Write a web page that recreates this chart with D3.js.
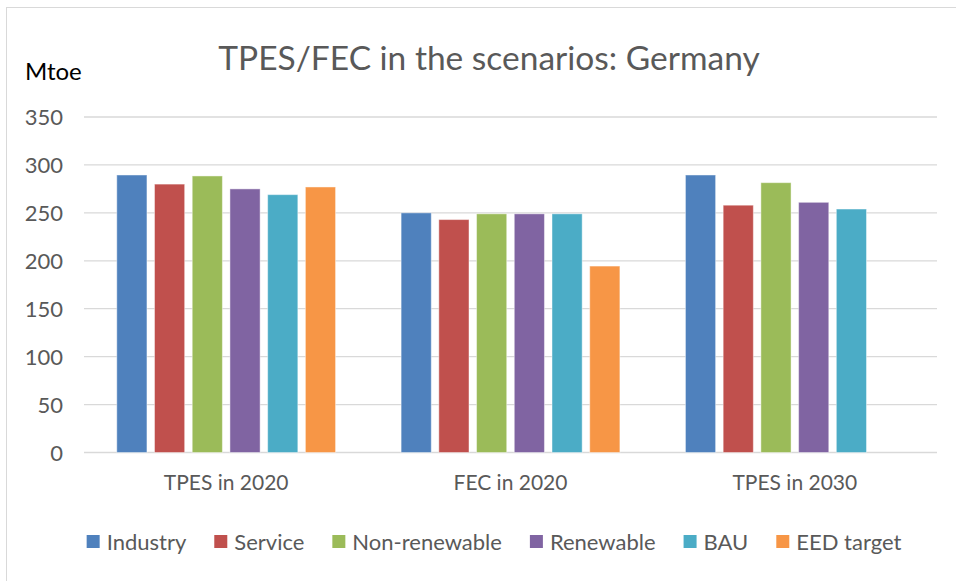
<!DOCTYPE html>
<html>
<head>
<meta charset="utf-8">
<script src="https://cdn.jsdelivr.net/npm/d3@7"></script>
<style>
  html, body { margin: 0; padding: 0; background: #fff; }
  svg { display: block; font-family: Lato, "Open Sans", sans-serif; }
</style>
</head>
<body>
<svg id="chart" width="956" height="581"></svg>
<script>
// Categories on the x axis
const categories = ["TPES in 2020", "FEC in 2020", "TPES in 2030"];
// Scenario series (Mtoe), one value per category
const seriesNames = ["Industry", "Service", "Non-renewable", "Renewable", "BAU", "EED target"];
const industry     = [289.5, 250, 289.5];
const service      = [280, 243, 258];
const nonRenewable = [288.5, 249, 281.5];
const renewable    = [275, 249, 261];
const bau          = [269, 249, 254];
const eedTarget    = [277, 194.5, null];
const yTicks = [0, 50, 100, 150, 200, 250, 300, 350];
const colors = ["#4F81BD", "#C0504D", "#9BBB59", "#8064A2", "#4BACC6", "#F79646"];

const seriesValues = [industry, service, nonRenewable, renewable, bau, eedTarget];

const svg = d3.select("#chart");

// Outer chart frame
svg.append("rect")
  .attr("x", 6.5).attr("y", 7.5)
  .attr("width", 980).attr("height", 620)
  .attr("fill", "#fff").attr("stroke", "#d9d9d9").attr("stroke-width", 1);

const plot = { left: 84, right: 937, top: 117, bottom: 452.5 };

const y = d3.scaleLinear().domain([0, 350]).range([plot.bottom, plot.top]);
const x0 = d3.scaleBand().domain(categories).range([plot.left, plot.right]).padding(0);
const x1 = d3.scaleBand().domain(seriesNames)
  .range([29, x0.bandwidth() - 29]).paddingInner(0.2).paddingOuter(0.1);
const color = d3.scaleOrdinal().domain(seriesNames).range(colors);

// Horizontal gridlines
svg.append("g")
  .selectAll("line")
  .data(yTicks)
  .join("line")
  .attr("x1", plot.left).attr("x2", plot.right)
  .attr("y1", d => y(d)).attr("y2", d => y(d))
  .attr("stroke", "#d9d9d9").attr("stroke-width", 1.3);

// Y tick labels
const yAxis = d3.axisLeft(y).tickValues(yTicks).tickSize(0).tickPadding(0);
svg.append("g")
  .attr("transform", `translate(${plot.left - 21},0)`)
  .call(yAxis)
  .call(g => g.select(".domain").remove())
  .call(g => g.selectAll("text")
    .attr("font-family", "Lato, sans-serif")
    .attr("font-size", 22)
    .attr("fill", "#595959")
    .attr("dy", "0.36em"));

// Bars
const rows = categories.map((c, i) => ({
  category: c,
  values: seriesNames.map((s, j) => ({ series: s, value: seriesValues[j][i] }))
}));

svg.append("g")
  .selectAll("g")
  .data(rows)
  .join("g")
  .attr("transform", d => `translate(${x0(d.category)},0)`)
  .selectAll("rect")
  .data(d => d.values.filter(v => v.value != null))
  .join("rect")
  .attr("x", d => x1(d.series))
  .attr("width", x1.bandwidth())
  .attr("y", d => y(d.value))
  .attr("height", d => y(0) - y(d.value))
  .attr("fill", d => color(d.series))
  .attr("stroke", "#ffffff")
  .attr("stroke-opacity", 0.45)
  .attr("stroke-width", 1);

// Category labels
const xAxis = d3.axisBottom(x0).tickSize(0).tickPadding(0);
svg.append("g")
  .attr("transform", `translate(0,${plot.bottom})`)
  .call(xAxis)
  .call(g => g.select(".domain").remove())
  .call(g => g.selectAll("text")
    .attr("font-family", "Lato, sans-serif")
    .attr("font-size", 21)
    .attr("fill", "#595959")
    .attr("dy", "37"));

// Title
svg.append("text")
  .attr("x", 489).attr("y", 70)
  .attr("text-anchor", "middle")
  .attr("font-size", 33.5)
  .attr("fill", "#595959")
  .text("TPES/FEC in the scenarios: Germany");

// Unit label
svg.append("text")
  .attr("x", 25).attr("y", 80)
  .attr("font-size", 24)
  .attr("fill", "#000")
  .text("Mtoe");

// Legend, laid out left to right and centred
const legend = svg.append("g");
const items = legend.selectAll("g").data(seriesNames).join("g");
items.append("rect")
  .attr("width", 13).attr("height", 13)
  .attr("y", -7)
  .attr("fill", d => color(d));
items.append("text")
  .attr("x", 20)
  .attr("dy", "0.36em")
  .attr("font-size", 22)
  .attr("fill", "#595959")
  .text(d => d);
let cursor = 0;
items.each(function () {
  const w = d3.select(this).select("text").node().getComputedTextLength();
  d3.select(this).attr("transform", `translate(${cursor},0)`);
  cursor += 20 + w + 28;
});
const legendWidth = cursor - 28;
legend.attr("transform", `translate(${494 - legendWidth / 2},542)`);
</script>
</body>
</html>
